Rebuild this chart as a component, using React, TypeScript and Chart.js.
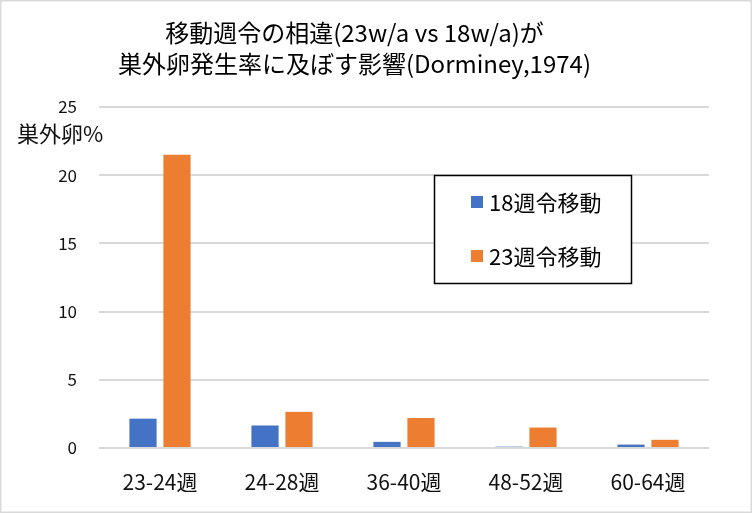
import { useEffect, useRef } from 'react';
import { Chart, registerables } from 'chart.js';

Chart.register(...registerables);

const categories = ['23-24週', '24-28週', '36-40週', '48-52週', '60-64週'];
const seriesLabels = ['18週令移動', '23週令移動'];
const moved18 = [2.15, 1.65, 0.45, 0.1, 0.25];
const moved23 = [21.5, 2.65, 2.2, 1.5, 0.6];
const yTickValues = [0, 5, 10, 15, 20, 25];
const titleLines = ['移動週令の相違(23w/a vs 18w/a)が', '巣外卵発生率に及ぼす影響(Dorminey,1974)'];
const yAxisLabel = '巣外卵%';

const FONT = "'Noto Sans CJK JP', 'Noto Sans', sans-serif";

// background, outer frame, y-axis caption and the boxed legend
const decorPlugin = {
  id: 'decor',
  beforeDraw(chart: Chart) {
    const { ctx, width, height } = chart;
    ctx.save();
    ctx.fillStyle = '#ffffff';
    ctx.fillRect(0, 0, width, height);
    ctx.restore();
  },
  afterDraw(chart: Chart) {
    const { ctx, width, height } = chart;
    ctx.save();
    // outer frame
    ctx.strokeStyle = '#d9d9d9';
    ctx.lineWidth = 1.5;
    ctx.strokeRect(0.75, 0.75, width - 1.5, height - 1.5);

    // horizontal y-axis caption
    ctx.fillStyle = '#111';
    ctx.font = `22px ${FONT}`;
    ctx.textAlign = 'left';
    ctx.textBaseline = 'middle';
    ctx.fillText(yAxisLabel, 17, 134);

    // legend box
    const bx = 434, by = 175, bw = 197, bh = 108;
    ctx.fillStyle = '#ffffff';
    ctx.fillRect(bx, by, bw, bh);
    ctx.strokeStyle = '#000';
    ctx.lineWidth = 1.5;
    ctx.strokeRect(bx + 0.5, by + 0.5, bw, bh);

    ctx.font = `22px ${FONT}`;
    chart.data.datasets.forEach((ds, i) => {
      const cy = 202 + i * 54;
      ctx.fillStyle = ds.backgroundColor as string;
      ctx.fillRect(471, cy - 6, 12, 12);
      ctx.fillStyle = '#000';
      ctx.fillText(ds.label ?? '', 489, cy + 1);
    });
    ctx.restore();
  },
};

export default function App() {
  const canvasRef = useRef<HTMLCanvasElement | null>(null);
  const chartRef = useRef<Chart | null>(null);

  useEffect(() => {
    document.body.style.margin = '0';
    if (!canvasRef.current) return;
    if (chartRef.current) chartRef.current.destroy();

    chartRef.current = new Chart(canvasRef.current, {
      type: 'bar',
      data: {
        labels: categories,
        datasets: [
          {
            label: seriesLabels[0],
            data: moved18,
            backgroundColor: '#4472c4',
            categoryPercentage: 0.557,
            barPercentage: 0.8,
          },
          {
            label: seriesLabels[1],
            data: moved23,
            backgroundColor: '#ed7d31',
            categoryPercentage: 0.557,
            barPercentage: 0.8,
          },
        ],
      },
      options: {
        animation: false,
        responsive: false,
        maintainAspectRatio: false,
        layout: {
          padding: { left: 0, right: 43, bottom: 19, top: 0 },
        },
        plugins: {
          legend: { display: false },
          tooltip: { enabled: false },
          title: {
            display: true,
            text: titleLines,
            color: '#000',
            font: { family: FONT, size: 24, weight: 'normal', lineHeight: 1.29 },
            padding: { top: 17.5, bottom: 27.5 },
          },
        },
        scales: {
          x: {
            grid: { display: false, drawTicks: false },
            border: { display: false },
            afterFit: (scale) => {
              scale.height = 46;
            },
            ticks: {
              color: '#111',
              padding: 21,
              font: { family: FONT, size: 21 },
            },
          },
          y: {
            min: 0,
            max: 25,
            afterBuildTicks: (scale) => {
              scale.ticks = yTickValues.map((v) => ({ value: v }));
            },
            afterFit: (scale) => {
              scale.width = 99;
            },
            grid: { color: '#d9d9d9', lineWidth: 2, drawTicks: false },
            border: { display: false },
            ticks: {
              color: '#111',
              padding: 22,
              font: { family: FONT, size: 17 },
            },
          },
        },
      },
      plugins: [decorPlugin],
    });

    return () => {
      if (chartRef.current) {
        chartRef.current.destroy();
        chartRef.current = null;
      }
    };
  }, []);

  return (
    <div style={{ width: 752, height: 513 }}>
      <canvas ref={canvasRef} width={752} height={513} />
    </div>
  );
}
